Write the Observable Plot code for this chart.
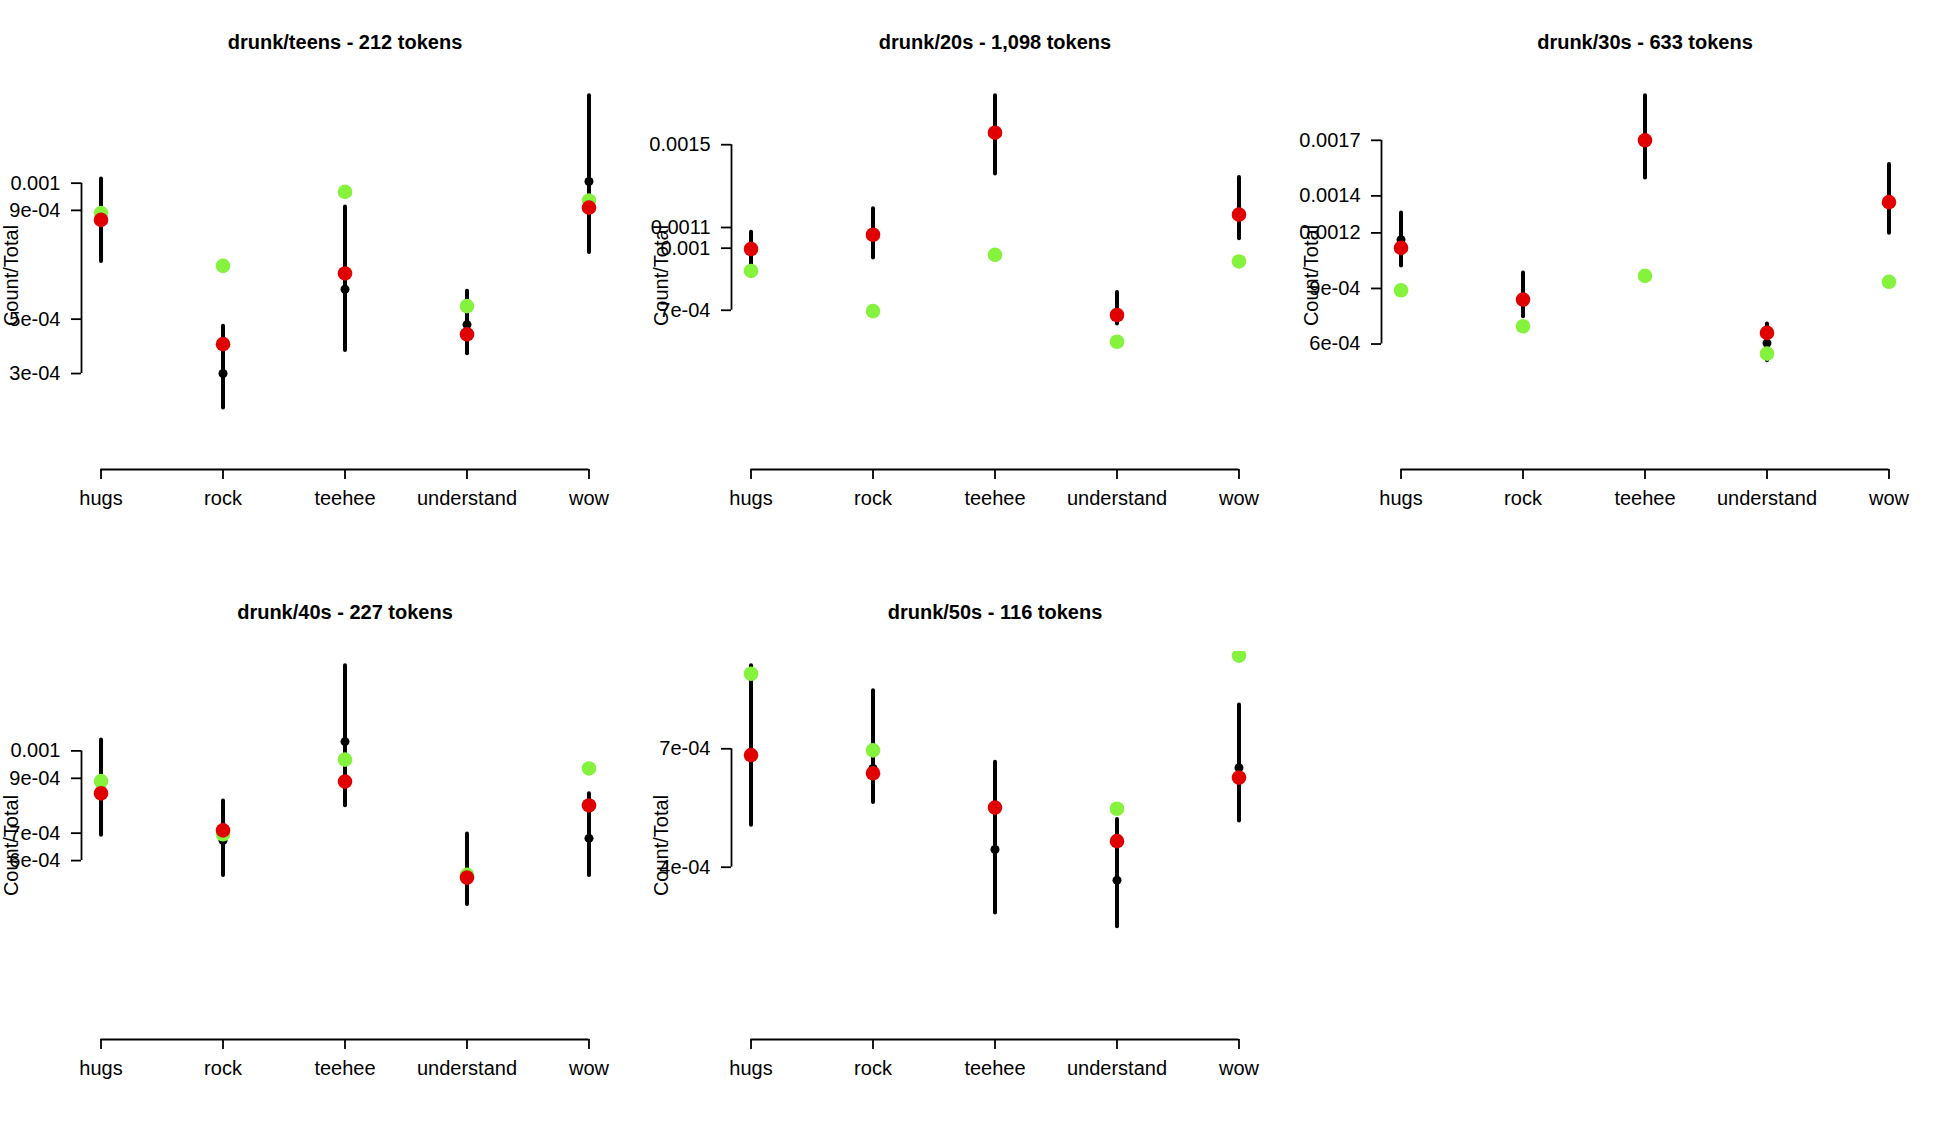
<!DOCTYPE html>
<html><head><meta charset="utf-8">
<script src="https://cdn.jsdelivr.net/npm/d3@7"></script>
<script src="https://cdn.jsdelivr.net/npm/@observablehq/plot@0.6"></script>
<style>
html,body{margin:0;padding:0;background:#fff;}
#chart{position:relative;width:1950px;height:1140px;background:#fff;overflow:hidden;}
#chart svg{position:absolute;overflow:visible;}
</style></head><body><div id="chart"></div>
<script>
// categories
const words = ["hugs", "rock", "teehee", "understand", "wow"];
const panelTitles = [
  "drunk/teens - 212 tokens",
  "drunk/20s - 1,098 tokens",
  "drunk/30s - 633 tokens",
  "drunk/40s - 227 tokens",
  "drunk/50s - 116 tokens"
];
// error-bar lower ends, per panel
const lower = [
  [0.000712, 0.000173, 0.000385, 0.000373, 0.000745],
  [0.000915, 0.000952, 0.001358, 0.000634, 0.001046],
  [0.001021, 0.000747, 0.001496, 0.000509, 0.001198],
  [0.000692, 0.000546, 0.000800, 0.000440, 0.000546],
  [0.000506, 0.000564, 0.000284, 0.000249, 0.000517]
];
// error-bar upper ends, per panel
const upper = [
  [0.001015, 0.000474, 0.000912, 0.000603, 0.001321],
  [0.001077, 0.001191, 0.001736, 0.000786, 0.001342],
  [0.001308, 0.000983, 0.001940, 0.000708, 0.001570],
  [0.001040, 0.000817, 0.001310, 0.000697, 0.000844],
  [0.000910, 0.000847, 0.000666, 0.000521, 0.000811]
];
// observed value (small black point), per panel
const observed = [
  [0.000860, 0.000300, 0.000610, 0.000480, 0.001006],
  [0.000996, 0.001065, 0.001550, 0.000680, 0.001160],
  [0.001163, 0.000845, 0.001700, 0.000605, 0.001366],
  [0.000870, 0.000673, 0.001034, 0.000545, 0.000681],
  [0.000690, 0.000650, 0.000445, 0.000367, 0.000652]
];
// overall rate (green), same in every panel
const overall = [0.000890, 0.000696, 0.000968, 0.000548, 0.000936];
// group estimate (red), per panel
const expected = [
  [0.000865, 0.000408, 0.000668, 0.000444, 0.000910],
  [0.000996, 0.001065, 0.001558, 0.000677, 0.001162],
  [0.001119, 0.000840, 0.001700, 0.000660, 0.001366],
  [0.000845, 0.000710, 0.000888, 0.000538, 0.000801],
  [0.000684, 0.000638, 0.000551, 0.000466, 0.000627]
];
// y tick values and labels, per panel
const yTicks = [
  [0.001, 0.0009, 0.0005, 0.0003],
  [0.0015, 0.0011, 0.001, 0.0007],
  [0.0017, 0.0014, 0.0012, 0.0009, 0.0006],
  [0.001, 0.0009, 0.0007, 0.0006],
  [0.0007, 0.0004]
];
const yTickLabels = [
  ["0.001", "9e-04", "5e-04", "3e-04"],
  ["0.0015", "0.0011", "0.001", "7e-04"],
  ["0.0017", "0.0014", "0.0012", "9e-04", "6e-04"],
  ["0.001", "9e-04", "7e-04", "6e-04"],
  ["7e-04", "4e-04"]
];
const yLabel = "Count/Total";

const greenColor = "#85f23e";
const redColor = "#e00000";
const W = 650, H = 570;
const container = document.getElementById("chart");

panelTitles.forEach((title, p) => {
  const rows = words.map((w, i) => ({
    i: i + 1, word: w,
    lo: lower[p][i], hi: upper[p][i], mid: observed[p][i],
    green: overall[i], red: expected[p][i]
  }));
  const n = words.length;
  const M = d3.max(upper[p]);
  const yDomain = [-0.04 * M, M * 1.04];
  const xDomain = [1 - 0.04 * (n - 1), n + 0.04 * (n - 1)];
  const ticks = yTicks[p];
  const labels = yTickLabels[p];
  const xTickVals = words.map((w, i) => i + 1);

  const chart = Plot.plot({
    width: W, height: H,
    marginLeft: 81, marginRight: 42, marginTop: 81, marginBottom: 101,
    style: {fontFamily: "'Liberation Sans', Arial, Helvetica, sans-serif", fontSize: "20px", color: "#000", background: "transparent"},
    x: {domain: xDomain, label: null},
    y: {domain: yDomain, label: null},
    marks: [
      Plot.axisX(xTickVals, {tickSize: 10, tickPadding: 11, tickFormat: d => words[d - 1], fontSize: 20, strokeWidth: 1.8, label: null}),
      Plot.axisY(ticks, {tickSize: 10, tickPadding: 11, tickFormat: d => labels[ticks.indexOf(d)], fontSize: 20, strokeWidth: 1.8, label: null}),
      Plot.ruleY([yDomain[0]], {x1: 1, x2: n, stroke: "#000", strokeWidth: 1.8}),
      Plot.ruleX([xDomain[0]], {y1: d3.min(ticks), y2: d3.max(ticks), stroke: "#000", strokeWidth: 1.8}),
      Plot.ruleX(rows, {x: "i", y1: "lo", y2: "hi", stroke: "#000", strokeWidth: 4, strokeLinecap: "round", clip: true}),
      Plot.dot(rows, {x: "i", y: "mid", r: 4.5, fill: "#000", clip: true}),
      Plot.dot(rows, {x: "i", y: "green", r: 7.3, fill: greenColor, clip: true}),
      Plot.dot(rows, {x: "i", y: "red", r: 7.3, fill: redColor, clip: true}),
      Plot.text([title], {frameAnchor: "top", lineAnchor: "bottom", dy: -32.5, fontWeight: "bold", fontSize: 20, fill: "#000"}),
      Plot.text([yLabel], {frameAnchor: "left", rotate: -90, textAnchor: "middle", lineAnchor: "bottom", dx: -64, fontSize: 20, fill: "#000"})
    ]
  });
  chart.style.left = ((p % 3) * W) + "px";
  chart.style.top = (Math.floor(p / 3) * H) + "px";
  container.appendChild(chart);
});
</script>
</body></html>
